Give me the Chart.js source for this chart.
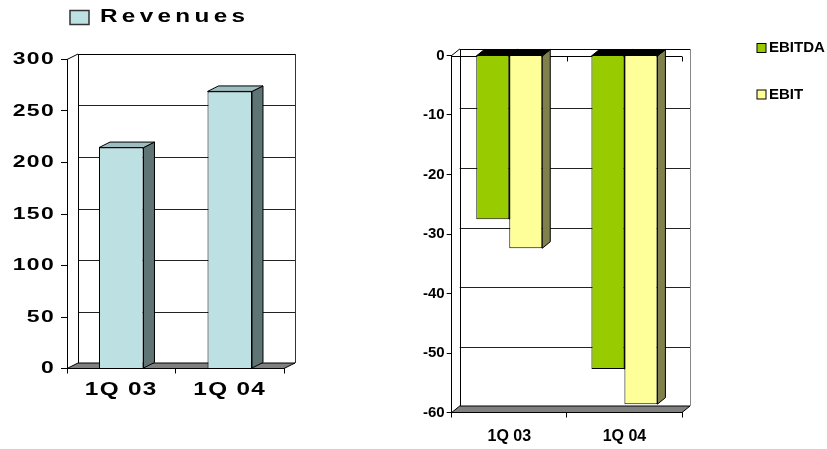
<!DOCTYPE html>
<html>
<head>
<meta charset="utf-8">
<script src="https://cdn.jsdelivr.net/npm/chart.js@4.4.1/dist/chart.umd.min.js"></script>
<style>
  html, body { margin: 0; padding: 0; background: #fff; }
  body { width: 827px; height: 449px; position: relative; overflow: hidden; }
  #revBox { position: absolute; left: 0; top: 0; width: 330px; height: 449px; }
  #earnBox { position: absolute; left: 400px; top: 0; width: 427px; height: 449px; }
</style>
</head>
<body>
<div id="revBox"><canvas id="revChart"></canvas></div>
<div id="earnBox"><canvas id="earnChart"></canvas></div>
<script>
// Quarterly figures
const quarters = ['1Q 03', '1Q 04'];
const revenues = [214.5, 269];
const ebitda = [-27.5, -52.7];
const ebit = [-32.4, -58.6];
const revenueTicks = [0, 50, 100, 150, 200, 250, 300];
const earningsTicks = [0, -10, -20, -30, -40, -50, -60];

// Keeps a fixed letter spacing on the chart's canvas context
const spacingPlugin = {
  id: 'textSpacing',
  beforeLayout(chart, args, o) { chart.ctx.letterSpacing = o.px || '0px'; },
  beforeDraw(chart, args, o) { chart.ctx.letterSpacing = o.px || '0px'; }
};

// Draws every text run horizontally widened around its anchor point
const wideTextPlugin = {
  id: 'wideText',
  beforeInit(chart) {
    const ctx = chart.ctx;
    const plain = ctx.fillText.bind(ctx);
    ctx.fillText = function (text, x, y, maxWidth) {
      const sx = chart.options.plugins.wideText.sx;
      ctx.save();
      ctx.translate(x, y);
      ctx.scale(sx, 1);
      if (maxWidth === undefined) plain(text, 0, 0);
      else plain(text, 0, 0, maxWidth / sx);
      ctx.restore();
    };
  }
};

// Back wall, floor and extruded bar faces for a pseudo-3D column look
const depthPlugin = {
  id: 'depth3d',
  beforeDatasetsDraw(chart, args, o) {
    const { ctx, chartArea: a, scales: { x, y } } = chart;
    const dx = o.dx, dy = o.dy;
    const line = (x1, y1, x2, y2) => { ctx.beginPath(); ctx.moveTo(x1, y1); ctx.lineTo(x2, y2); ctx.stroke(); };
    const poly = (pts, fill) => {
      ctx.beginPath();
      pts.forEach((p, i) => i ? ctx.lineTo(p[0], p[1]) : ctx.moveTo(p[0], p[1]));
      ctx.closePath();
      ctx.fillStyle = fill; ctx.fill();
      ctx.strokeStyle = '#000'; ctx.stroke();
    };
    ctx.save();
    ctx.lineWidth = 1;
    const wallTop = a.top + dy, wallBot = a.bottom + dy;
    const wl = a.left + dx, wr = a.right + dx;

    // grid lines on the back wall
    ctx.strokeStyle = o.gridColor;
    y.ticks.forEach(t => {
      const py = Math.round(y.getPixelForValue(t.value) + dy) + 0.5;
      line(wl, py, wr, py);
    });
    // wall outline
    ctx.strokeStyle = '#000';
    line(Math.round(wl) + 0.5, wallBot, Math.round(wl) + 0.5, wallTop);
    line(wl, Math.round(wallTop) + 0.5, wr, Math.round(wallTop) + 0.5);
    line(a.left, a.top, wl, wallTop);
    ctx.strokeStyle = o.rightEdge;
    line(Math.round(wr) + 0.5, wallTop, Math.round(wr) + 0.5, wallBot);

    // floor
    poly([[a.left, a.bottom], [a.right, a.bottom], [wr, wallBot], [wl, wallBot]], o.floorColor);

    // category axis line at zero, front plane
    if (o.zeroLine) {
      const zy = Math.round(y.getPixelForValue(0)) + 0.5;
      const step = x.getPixelForTick(1) - x.getPixelForTick(0);
      ctx.strokeStyle = '#000';
      line(a.left, zy, a.right, zy);
      x.ticks.forEach((t, i) => {
        const px = Math.round(x.getPixelForTick(i) + step / 2) + 0.5;
        line(px, zy, px, zy + 5);
      });
    }

    // side and cap faces of each bar
    chart.data.datasets.forEach((ds, i) => {
      const meta = chart.getDatasetMeta(i);
      meta.data.forEach(bar => {
        const p = bar.getProps(['x', 'y', 'base', 'width'], true);
        const x0 = p.x - p.width / 2, x1 = p.x + p.width / 2;
        const yT = Math.min(p.y, p.base), yB = Math.max(p.y, p.base);
        poly([[x1, yT], [x1 + dx, yT + dy], [x1 + dx, yB + dy], [x1, yB]], ds.sideColor);
        poly([[x0, yT], [x1, yT], [x1 + dx, yT + dy], [x0 + dx, yT + dy]], ds.topColor);
      });
    });
    ctx.restore();
  }
};

// Series key drawn from the dataset labels and colours
const keyPlugin = {
  id: 'seriesKey',
  afterDraw(chart, args, o) {
    const ctx = chart.ctx;
    ctx.save();
    ctx.font = o.font;
    ctx.letterSpacing = o.spacing;
    ctx.textBaseline = 'middle';
    ctx.textAlign = 'left';
    chart.data.datasets.forEach((ds, i) => {
      const cy = o.y + i * o.gap;
      ctx.fillStyle = ds.backgroundColor;
      ctx.fillRect(o.x, cy - o.boxH / 2, o.boxW, o.boxH);
      ctx.strokeStyle = o.boxBorder;
      ctx.lineWidth = o.boxLine;
      ctx.strokeRect(o.x, cy - o.boxH / 2, o.boxW, o.boxH);
      ctx.fillStyle = '#000';
      ctx.fillText(ds.label, o.x + o.boxW + o.textGap, cy);
    });
    ctx.restore();
  }
};

Chart.register(spacingPlugin, depthPlugin, keyPlugin);

const fixedTicks = list => scale => { scale.ticks = list.map(v => ({ value: v })); };

// Revenues
new Chart(document.getElementById('revChart'), {
  type: 'bar',
  plugins: [wideTextPlugin],
  data: {
    labels: quarters,
    datasets: [{
      label: 'Revenues',
      data: revenues,
      backgroundColor: '#bde0e3',
      borderColor: '#000',
      borderWidth: 1,
      sideColor: '#5f7474',
      topColor: '#9dbdc0',
      barPercentage: 0.41,
      categoryPercentage: 1
    }]
  },
  options: {
    responsive: true,
    maintainAspectRatio: false,
    animation: false,
    events: [],
    layout: { padding: { left: 0, top: 59.5, right: 46, bottom: 0 } },
    scales: {
      x: {
        afterFit: s => { s.height = 80.5; },
        grid: { drawOnChartArea: false, tickLength: 5, color: '#000', offset: true },
        border: { display: true, color: '#000', width: 1 },
        ticks: { color: '#000', padding: 6, font: { family: 'Liberation Sans', weight: 'bold', size: 18 } }
      },
      y: {
        min: 0, max: 300,
        afterBuildTicks: fixedTicks(revenueTicks),
        afterFit: s => { s.width = 67; },
        grid: { drawOnChartArea: false, tickLength: 6, color: '#000' },
        border: { display: true, color: '#000', width: 1 },
        ticks: { color: '#000', padding: 6, font: { family: 'Liberation Sans', weight: 'bold', size: 17 } }
      }
    },
    plugins: {
      legend: { display: false },
      tooltip: { enabled: false },
      wideText: { sx: 1.35 },
      textSpacing: { px: '1px' },
      depth3d: { dx: 11, dy: -5.5, gridColor: '#222', rightEdge: '#333', floorColor: '#808080', zeroLine: false },
      seriesKey: {
        x: 70, y: 17.5, gap: 0, boxW: 19, boxH: 14, boxBorder: '#333', boxLine: 1.5, textGap: 11,
        font: 'bold 18px "Liberation Sans"', spacing: '3.2px'
      }
    }
  }
});

// EBITDA and EBIT
new Chart(document.getElementById('earnChart'), {
  type: 'bar',
  data: {
    labels: quarters,
    datasets: [{
      label: 'EBITDA',
      data: ebitda,
      backgroundColor: '#99cc00',
      borderColor: '#000',
      borderWidth: 1,
      sideColor: '#4d6600',
      topColor: '#000',
      barPercentage: 1,
      categoryPercentage: 0.573
    }, {
      label: 'EBIT',
      data: ebit,
      backgroundColor: '#ffff99',
      borderColor: '#000',
      borderWidth: 1,
      sideColor: '#80804d',
      topColor: '#000',
      barPercentage: 1,
      categoryPercentage: 0.573
    }]
  },
  options: {
    responsive: true,
    maintainAspectRatio: false,
    animation: false,
    events: [],
    layout: { padding: { left: 0, top: 55.5, right: 145, bottom: 0 } },
    scales: {
      x: {
        afterFit: s => { s.height = 36.5; },
        grid: { drawOnChartArea: false, tickLength: 5, color: '#000', offset: true },
        border: { display: true, color: '#000', width: 1 },
        ticks: { color: '#000', padding: 9, font: { family: 'Liberation Sans', weight: 'bold', size: 16 } }
      },
      y: {
        min: -60, max: 0,
        afterBuildTicks: fixedTicks(earningsTicks),
        afterFit: s => { s.width = 51.7; },
        grid: { drawOnChartArea: false, tickLength: 5, color: '#000' },
        border: { display: true, color: '#000', width: 1 },
        ticks: { color: '#000', padding: 2, font: { family: 'Liberation Sans', weight: 'bold', size: 15 } }
      }
    },
    plugins: {
      legend: { display: false },
      tooltip: { enabled: false },
      textSpacing: { px: '0px' },
      depth3d: { dx: 8, dy: -6.5, gridColor: '#222', rightEdge: '#888', floorColor: '#808080', zeroLine: true },
      seriesKey: {
        x: 357, y: 48, gap: 46.5, boxW: 9, boxH: 9, boxBorder: '#000', boxLine: 1, textGap: 3,
        font: 'bold 15px "Liberation Sans"', spacing: '0px'
      }
    }
  }
});
</script>
</body>
</html>
